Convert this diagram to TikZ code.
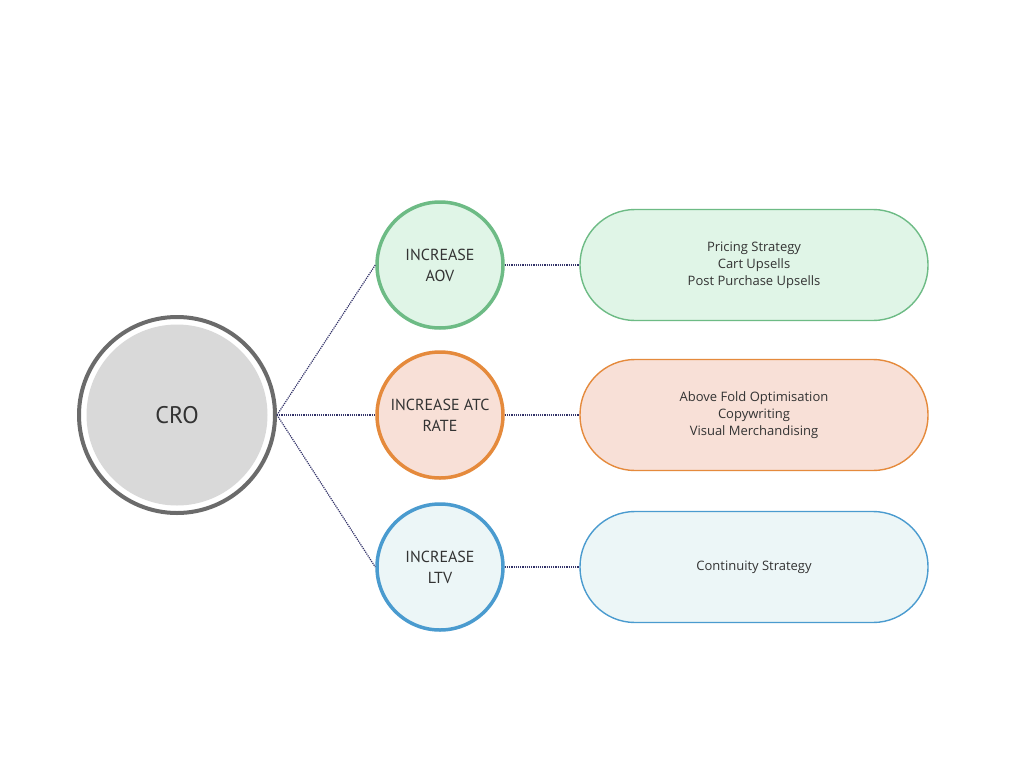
\documentclass[tikz,border=0pt]{standalone}
\usepackage{fontspec}
\setmainfont{Open Sans}
\newfontfamily\narrowf{PT Sans}
\begin{document}
\begin{tikzpicture}[x=1pt,y=-1pt,
 small/.style={circle,minimum size=126pt,line width=3.5pt,inner sep=0pt,align=center,font=\narrowf\fontsize{16}{21}\selectfont,text=black!80},
 pill/.style={rounded corners=55pt,minimum width=348pt,minimum height=111pt,line width=1.4pt,align=center,font=\fontsize{13}{17}\selectfont,text=black!80},
 conn/.style={densely dotted,line width=1.2pt,draw=black!65!blue!60!gray}]
\definecolor{gS}{HTML}{6DBB85}\definecolor{gF}{HTML}{E0F5E7}
\definecolor{oS}{HTML}{E58A3C}\definecolor{oF}{HTML}{F8E0D7}
\definecolor{bS}{HTML}{4A9BCF}\definecolor{bF}{HTML}{ECF6F7}
\useasboundingbox (0,0) rectangle (1024,768);
\fill[white] (0,0) rectangle (1024,768);
\node[circle,minimum size=196pt,draw=black!58,line width=4pt,fill=white,inner sep=0pt] (cro) at (177,415) {};
\node[circle,minimum size=181pt,fill=black!15,inner sep=0pt,font=\narrowf\fontsize{24}{28}\selectfont,text=black!80] (croin) at (177,415) {CRO};
\node[small,draw=gS,fill=gF] (a) at (440,265) {INCREASE\\AOV};
\node[small,draw=oS,fill=oF] (b) at (440,415) {INCREASE ATC\\RATE};
\node[small,draw=bS,fill=bF] (c) at (440,567) {INCREASE\\LTV};
\node[pill,draw=gS,fill=gF] (pa) at (754,265) {Pricing Strategy\\Cart Upsells\\Post Purchase Upsells};
\node[pill,draw=oS,fill=oF] (pb) at (754,415) {Above Fold Optimisation\\Copywriting\\Visual Merchandising};
\node[pill,draw=bS,fill=bF] (pc) at (754,567) {Continuity Strategy};
\draw[conn] (cro.east) -- (a.west);
\draw[conn] (cro.east) -- (b.west);
\draw[conn] (cro.east) -- (c.west);
\draw[conn] (a.east) -- (pa.west);
\draw[conn] (b.east) -- (pb.west);
\draw[conn] (c.east) -- (pc.west);
\end{tikzpicture}
\end{document}
